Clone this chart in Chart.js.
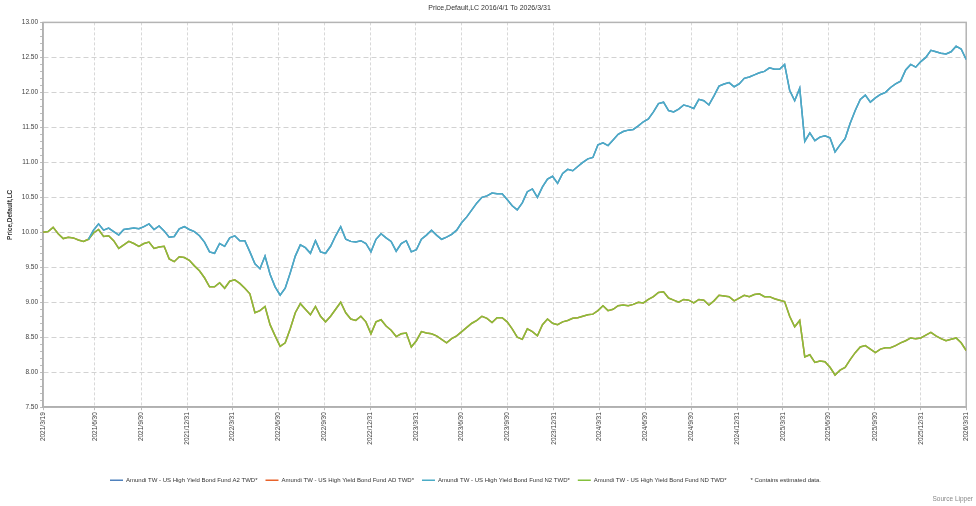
<!DOCTYPE html>
<html><head><meta charset="utf-8">
<script src="https://cdn.jsdelivr.net/npm/chart.js@4.4.1/dist/chart.umd.min.js"></script>
<style>html,body{margin:0;padding:0;background:#fff;} #wrap{width:976px;height:506px;}</style>
</head><body><div id="wrap"><canvas id="c" width="976" height="506"></canvas></div>
<script>
const chartTitle = 'Price,Default,LC 2016/4/1 To 2026/3/31';
const yAxisTitle = 'Price,Default,LC';
const sourceText = 'Source Lipper';
const noteText = '* Contains estimated data.';
const seriesNames = [
  'Amundi TW - US High Yield Bond Fund A2 TWD*',
  'Amundi TW - US High Yield Bond Fund AD TWD*',
  'Amundi TW - US High Yield Bond Fund N2 TWD*',
  'Amundi TW - US High Yield Bond Fund ND TWD*'
];
const seriesColors = ['#4f81bd', '#e8632b', '#4bacc6', '#84c03c'];
const startDate = '2021/3/19';
const endDate = '2026/3/31';
const xTickLabels = ['2021/3/19','2021/6/30','2021/9/30','2021/12/31','2022/3/31','2022/6/30','2022/9/30','2022/12/31','2023/3/31','2023/6/30','2023/9/30','2023/12/31','2024/3/31','2024/6/30','2024/9/30','2024/12/31','2025/3/31','2025/6/30','2025/9/30','2025/12/31','2026/3/31'];
const yMin = 7.5, yMax = 13, yMajorStep = 0.5, yMinorStep = 0.1;

// values sampled evenly (about every 10 days) from startDate to endDate
const valuesND = [10.00,10.01,10.07,9.98,9.91,9.93,9.92,9.89,9.87,9.90,
 9.99,10.04,9.94,9.95,9.88,9.77,9.82,9.87,9.84,9.80,
 9.84,9.86,9.77,9.79,9.80,9.62,9.58,9.65,9.64,9.60,
 9.52,9.45,9.35,9.22,9.22,9.28,9.20,9.30,9.32,9.27,
 9.20,9.12,8.85,8.88,8.94,8.68,8.52,8.37,8.42,8.62,
 8.85,8.98,8.90,8.82,8.94,8.80,8.72,8.80,8.90,9.00,
 8.85,8.76,8.74,8.80,8.72,8.55,8.72,8.75,8.66,8.60,
 8.51,8.55,8.56,8.36,8.45,8.58,8.56,8.55,8.52,8.47,
 8.42,8.48,8.52,8.58,8.64,8.70,8.74,8.80,8.77,8.71,
 8.78,8.78,8.72,8.62,8.50,8.47,8.62,8.58,8.52,8.68,
 8.76,8.70,8.68,8.72,8.74,8.77,8.78,8.80,8.82,8.83,
 8.88,8.95,8.88,8.90,8.95,8.96,8.95,8.97,9.00,8.99,
 9.04,9.08,9.14,9.15,9.06,9.03,9.00,9.04,9.03,8.99,
 9.04,9.03,8.96,9.02,9.10,9.09,9.08,9.02,9.06,9.10,
 9.08,9.11,9.12,9.08,9.08,9.05,9.03,9.01,8.80,8.65,
 8.74,8.22,8.25,8.14,8.16,8.15,8.07,7.96,8.03,8.07,
 8.18,8.28,8.36,8.38,8.33,8.28,8.33,8.35,8.35,8.38,
 8.42,8.45,8.49,8.48,8.49,8.53,8.57,8.52,8.48,8.45,
 8.47,8.49,8.42,8.31];

const valuesN2 = [null,null,null,null,null,null,null,null,null,9.90,
 10.03,10.12,10.03,10.06,10.01,9.96,10.04,10.05,10.06,10.05,
 10.08,10.12,10.04,10.09,10.02,9.93,9.94,10.05,10.08,10.04,
 10.01,9.95,9.86,9.72,9.70,9.84,9.80,9.92,9.95,9.88,
 9.88,9.72,9.55,9.48,9.66,9.40,9.22,9.10,9.20,9.42,
 9.66,9.82,9.78,9.70,9.88,9.72,9.70,9.80,9.95,10.08,
 9.90,9.87,9.86,9.88,9.84,9.72,9.90,9.98,9.92,9.87,
 9.73,9.84,9.88,9.72,9.75,9.90,9.96,10.03,9.96,9.90,
 9.93,9.97,10.03,10.14,10.22,10.32,10.42,10.50,10.52,10.56,
 10.55,10.55,10.47,10.38,10.32,10.42,10.58,10.62,10.50,10.65,
 10.76,10.80,10.70,10.84,10.90,10.88,10.94,11.00,11.05,11.07,
 11.25,11.28,11.24,11.32,11.40,11.44,11.46,11.47,11.52,11.58,
 11.62,11.72,11.84,11.86,11.74,11.72,11.76,11.82,11.80,11.77,
 11.90,11.88,11.82,11.95,12.09,12.12,12.14,12.08,12.12,12.20,
 12.22,12.25,12.28,12.30,12.35,12.33,12.33,12.40,12.03,11.88,
 12.06,11.30,11.42,11.31,11.36,11.38,11.35,11.15,11.25,11.34,
 11.56,11.74,11.90,11.96,11.86,11.92,11.97,12.00,12.07,12.12,
 12.16,12.32,12.40,12.36,12.44,12.50,12.60,12.58,12.56,12.55,
 12.58,12.66,12.62,12.47];

// A2 / AD series coincide with N2 / ND in the picture (hidden beneath them)
const valuesA2 = valuesN2;
const valuesAD = valuesND;

function dayOf(s) {
  const [y, m, d] = s.split('/').map(Number);
  return Date.UTC(y, m - 1, d) / 86400000;
}
const day0 = dayOf(startDate);
const totalDays = dayOf(endDate) - day0;
const sampleDays = totalDays / (valuesND.length - 1);
const tickDays = xTickLabels.map(l => dayOf(l) - day0);
const tickLabelByDay = {};
tickDays.forEach((d, i) => tickLabelByDay[d] = xTickLabels[i]);
const toPoints = vals => vals.map((v, i) => ({x: i * sampleDays, y: v}));
const isMajor = v => Math.abs(v / yMajorStep - Math.round(v / yMajorStep)) < 1e-6;

Chart.defaults.font.family = "'Liberation Sans', Arial, sans-serif";
Chart.defaults.font.size = 6.5;
Chart.defaults.color = '#404040';

const framePlugin = {
  id: 'frame',
  beforeDatasetsDraw(chart) {
    const a = chart.chartArea, c = chart.ctx;
    c.save();
    c.strokeStyle = '#b4b4b4';
    c.lineWidth = 1.5;
    c.strokeRect(a.left, a.top, a.right - a.left, a.bottom - a.top);
    c.restore();
  }
};

const allValues = [valuesA2, valuesAD, valuesN2, valuesND];
const drawOrder = [3, 4, 1, 2];
// legend row is placed left of centre in the reference; trailing em-spaces reproduce that offset
const legendTrail = '\u2003'.repeat(8);

new Chart(document.getElementById('c'), {
  type: 'line',
  data: {
    datasets: allValues.map((vals, i) => ({
      label: seriesNames[i],
      data: toPoints(vals),
      borderColor: seriesColors[i],
      backgroundColor: seriesColors[i],
      borderWidth: 1.5,
      pointRadius: 0,
      tension: 0,
      fill: false,
      spanGaps: false,
      order: drawOrder[i]
    }))
  },
  plugins: [framePlugin],
  options: {
    responsive: false,
    animation: false,
    layout: {padding: {left: 6, right: 3, top: 0, bottom: 0}},
    plugins: {
      tooltip: {enabled: false},
      title: {display: true, text: chartTitle, color: '#333', font: {size: 7, weight: 'normal'}, padding: {top: 4, bottom: 10}},
      subtitle: {display: true, text: sourceText, position: 'bottom', align: 'end', color: '#888', font: {size: 6.5}, padding: {top: 2, bottom: 3}},
      legend: {
        position: 'bottom',
        labels: {
          usePointStyle: true,
          pointStyle: 'line',
          pointStyleWidth: 13,
          padding: 8,
          color: '#333',
          font: {size: 6},
          sort: (a, b) => a.datasetIndex - b.datasetIndex,
          generateLabels(chart) {
            const items = Chart.defaults.plugins.legend.labels.generateLabels(chart);
            items.forEach(it => { it.lineWidth = 1.6; });
            items.push({text: noteText + legendTrail, strokeStyle: 'rgba(0,0,0,0)', fillStyle: 'rgba(0,0,0,0)', lineWidth: 0, pointStyle: 'line', datasetIndex: 99, hidden: false, fontColor: '#333'});
            return items;
          }
        }
      }
    },
    scales: {
      x: {
        type: 'linear',
        min: 0,
        max: totalDays,
        afterBuildTicks: s => { s.ticks = tickDays.map(v => ({value: v})); },
        afterFit: s => { s.height = 62; },
        ticks: {autoSkip: false, maxRotation: 90, minRotation: 90, padding: 2, color: '#404040',
                callback: v => tickLabelByDay[v] || ''},
        grid: {color: '#d8d8d8', tickLength: 3, tickColor: '#bbb'},
        border: {color: '#aaa', width: 1.5, dash: [3, 2]}
      },
      y: {
        min: yMin,
        max: yMax,
        ticks: {stepSize: yMinorStep, autoSkip: false, padding: 2, color: '#404040',
                callback: v => isMajor(v) ? Number(v).toFixed(2) : ''},
        grid: {color: c => isMajor(c.tick.value) ? '#d2d2d2' : 'rgba(0,0,0,0)', tickLength: 3, tickColor: '#bbb'},
        border: {color: '#aaa', width: 1.5, dash: [5, 3]},
        title: {display: true, text: yAxisTitle, color: '#333', font: {size: 6.5, weight: 'bold'}, padding: {top: 0, bottom: 6}}
      }
    }
  }
});
</script>
</body></html>
